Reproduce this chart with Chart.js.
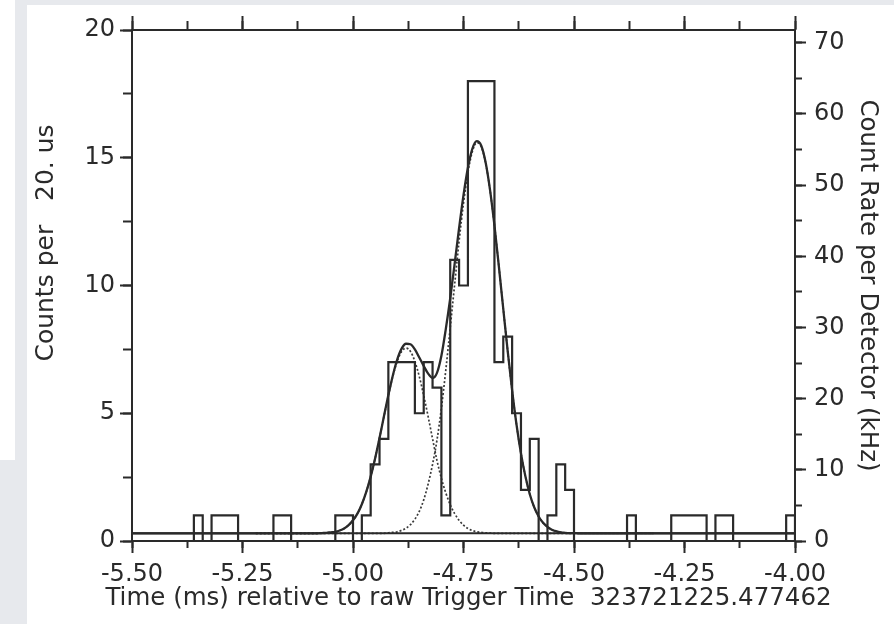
<!DOCTYPE html>
<html><head><meta charset="utf-8">
<script src="https://cdn.jsdelivr.net/npm/chart.js@4/dist/chart.umd.min.js"></script>
<style>
html,body{margin:0;padding:0;background:#e7e9ed;width:894px;height:624px;overflow:hidden;}
#side{position:absolute;left:0;top:0;width:15px;height:460px;background:#fff;}
#panel{position:absolute;left:27px;top:5px;width:867px;height:619px;background:#fff;}
#wrap{position:absolute;left:0;top:0;width:894px;height:624px;}
</style></head><body>
<div id="side"></div><div id="panel"></div>
<div id="wrap"><canvas id="c" width="894" height="624"></canvas></div>
<script>
// ---- data ----
const BIN_START = -5.50;     // ms, left edge of first bin
const BIN_WIDTH = 0.02;      // ms (20 us)
const COUNTS = [0,0,0,0,0,0,0,1,0,1, 1,1,0,0,0,0,1,1,0,0,
                0,0,0,1,1,0,1,3,4,7, 7,7,5,7,6,1,11,10,18,18,
                18,7,8,5,2,4,0,1,3,2, 0,0,0,0,0,0,1,0,0,0,
                0,1,1,1,1,0,1,1,0,0, 0,0,0,0,1];
const BACKGROUND = 0.3;
const X_RANGE = [-5.50, -4.00];
const DOT_RANGE = [-5.22, -4.32];
const FIT_T = [-5.10,-5.09,-5.08,-5.07,-5.06,-5.05,-5.04,-5.03,-5.02,-5.01,
               -5.00,-4.99,-4.98,-4.97,-4.96,-4.95,-4.94,-4.93,-4.92,-4.91,
               -4.90,-4.89,-4.88,-4.87,-4.86,-4.85,-4.84,-4.83,-4.82,-4.81,
               -4.80,-4.79,-4.78,-4.77,-4.76,-4.75,-4.74,-4.73,-4.72,-4.71,
               -4.70,-4.69,-4.68,-4.67,-4.66,-4.65,-4.64,-4.63,-4.62,-4.61,
               -4.60,-4.59,-4.58,-4.57,-4.56,-4.55,-4.54,-4.53,-4.52,-4.51,
               -4.50,-4.49,-4.48];
const FIT_TOTAL = [0.30,0.30,0.30,0.31,0.32,0.34,0.36,0.41,0.49,0.62,
                   0.81,1.07,1.44,1.92,2.52,3.23,4.03,4.88,5.71,6.47,
                   7.10,7.53,7.72,7.70,7.50,7.18,6.85,6.55,6.38,6.58,
                   7.25,8.30,9.50,10.86,12.24,13.54,14.61,15.35,15.65,15.48,
                   14.82,13.74,12.35,10.75,9.08,7.43,5.90,4.55,3.43,2.53,
                   1.83,1.32,0.96,0.71,0.55,0.44,0.38,0.34,0.32,0.31,
                   0.31,0.30,0.30];
const FIT_PULSE1 = [0.30,0.30,0.30,0.31,0.32,0.34,0.36,0.41,0.49,0.62,
                    0.81,1.07,1.44,1.92,2.52,3.23,4.03,4.87,5.69,6.44,
                    7.03,7.42,7.55,7.42,7.03,6.44,5.69,4.87,4.00,3.15,
                    2.45,1.88,1.42,1.07,0.81,0.62,0.49,0.41,0.36,0.34,
                    0.32,0.31,0.30,0.30,0.30,0.30,0.30,0.30,0.30,0.30,
                    0.30,0.30,0.30,0.30,0.30,0.30,0.30,0.30,0.30,0.30,
                    0.30,0.30,0.30];
const FIT_PULSE2 = [0.30,0.30,0.30,0.30,0.30,0.30,0.30,0.30,0.30,0.30,
                    0.30,0.30,0.30,0.30,0.30,0.30,0.30,0.30,0.32,0.34,
                    0.36,0.42,0.50,0.64,0.85,1.16,1.61,2.23,3.00,3.95,
                    5.20,6.70,8.35,10.05,11.73,13.22,14.42,15.24,15.59,15.44,
                    14.80,13.74,12.35,10.75,9.08,7.43,5.90,4.55,3.43,2.53,
                    1.83,1.32,0.96,0.71,0.55,0.44,0.38,0.34,0.32,0.31,
                    0.31,0.30,0.30];
const X_TICKS = [-5.50,-5.25,-5.00,-4.75,-4.50,-4.25,-4.00];
const COUNT_TICKS = [0,5,10,15,20];
const RATE_TICKS = [0,10,20,30,40,50,60,70];
const COUNT_MAX = 20;
const RATE_MAX = 71.8;       // kHz at the top of the right axis
const X_TITLE = 'Time (ms) relative to raw Trigger Time  323721225.477462';
const Y_TITLE = 'Counts per   20. us';
const Y2_TITLE = 'Count Rate per Detector (kHz)';

// ---- build chart ----
const INK = '#2a2a2a';
const FONT = {family: 'DejaVu Sans', size: 24};
const hist = COUNTS.map((c, i) => ({x: BIN_START + i * BIN_WIDTH, y: c}));
hist.push({x: X_RANGE[1], y: COUNTS[COUNTS.length - 1]});
hist.push({x: X_RANGE[1], y: 0});
const curve = (arr, ends) => [{x: ends[0], y: BACKGROUND}]
  .concat(FIT_T.map((t, i) => ({x: t, y: arr[i]})))
  .concat([{x: ends[1], y: BACKGROUND}]);

function axis(pos, weight, min, max, opts) {
  const o = {
    type: 'linear', position: pos, weight: weight, min: min, max: max,
    grid: {drawOnChartArea: false, drawTicks: true, tickLength: opts.tl, tickColor: INK, tickWidth: 2},
    border: {display: !!opts.border, color: INK, width: 2},
    ticks: {display: !!opts.labels, color: INK, font: FONT, padding: opts.pad || 0,
            includeBounds: false, maxRotation: 0, autoSkip: false},
    afterFit: s => { if (s.isHorizontal()) s.height = opts.size; else s.width = opts.size; }
  };
  if (opts.step) o.ticks.stepSize = opts.step;
  if (opts.list) o.afterBuildTicks = s => { s.ticks = opts.list.map(v => ({value: v})); };
  if (opts.fmt) o.ticks.callback = opts.fmt;
  if (opts.title) o.title = opts.title;
  return o;
}

// axis titles that sit off-centre in the original
const outerTitles = {
  id: 'outerTitles',
  afterDraw(chart) {
    const ctx = chart.ctx, a = chart.chartArea;
    ctx.save();
    ctx.fillStyle = INK;
    ctx.textAlign = 'center';
    ctx.textBaseline = 'middle';
    ctx.font = '24.5px "DejaVu Sans"';
    ctx.fillText(X_TITLE, (a.left + a.right) / 2 + 5, a.bottom + 58);
    ctx.translate(46, a.top + 213);
    ctx.rotate(-Math.PI / 2);
    ctx.font = '25px "DejaVu Sans"';
    ctx.fillText(Y_TITLE, 0, 0);
    ctx.restore();
  }
};

new Chart(document.getElementById('c'), {
  type: 'line',
  data: {datasets: [
    {data: hist, stepped: true, borderColor: INK, borderWidth: 2.2, pointRadius: 0, fill: false},
    {data: [{x: X_RANGE[0], y: BACKGROUND}, {x: X_RANGE[1], y: BACKGROUND}], borderColor: INK, borderWidth: 2, pointRadius: 0},
    {data: curve(FIT_TOTAL, X_RANGE), borderColor: INK, borderWidth: 2.3, pointRadius: 0, cubicInterpolationMode: 'monotone'},
    {data: curve(FIT_PULSE1, DOT_RANGE), borderColor: '#3a3a3a', borderWidth: 1.7, borderDash: [2, 2], pointRadius: 0, cubicInterpolationMode: 'monotone'},
    {data: curve(FIT_PULSE2, DOT_RANGE), borderColor: '#3a3a3a', borderWidth: 1.7, borderDash: [2, 2], pointRadius: 0, cubicInterpolationMode: 'monotone'}
  ]},
  options: {
    responsive: false, animation: false, devicePixelRatio: 1,
    layout: {padding: 0},
    plugins: {legend: {display: false}, tooltip: {enabled: false}},
    scales: {
      x: axis('bottom', 1, X_RANGE[0], X_RANGE[1], {tl: 12, border: true, labels: true, pad: 7, size: 83,
           list: X_TICKS, fmt: v => Number(v).toFixed(2)}),
      xMinor: axis('bottom', 0, X_RANGE[0], X_RANGE[1], {tl: 7, step: 0.125, size: 0}),
      xTop: axis('top', 1, X_RANGE[0], X_RANGE[1], {tl: 14, border: true, size: 30, list: X_TICKS}),
      xTopMinor: axis('top', 0, X_RANGE[0], X_RANGE[1], {tl: 9, step: 0.125, size: 0}),
      y: axis('left', 1, 0, COUNT_MAX, {tl: 12, border: true, labels: true, pad: 5, size: 132, list: COUNT_TICKS}),
      yMinor: axis('left', 0, 0, COUNT_MAX, {tl: 9, step: 2.5, size: 0}),
      yRate: axis('right', 1, 0, RATE_MAX, {tl: 11, border: true, labels: true, pad: 8, size: 99, list: RATE_TICKS,
           title: {display: true, text: Y2_TITLE, color: INK, font: {family: 'DejaVu Sans', size: 24.5}, padding: {top: 12, bottom: 0}}}),
      yRateMinor: axis('right', 0, 0, RATE_MAX, {tl: 7, step: 5, size: 0})
    }
  },
  plugins: [outerTitles]
});
</script>
</body></html>
